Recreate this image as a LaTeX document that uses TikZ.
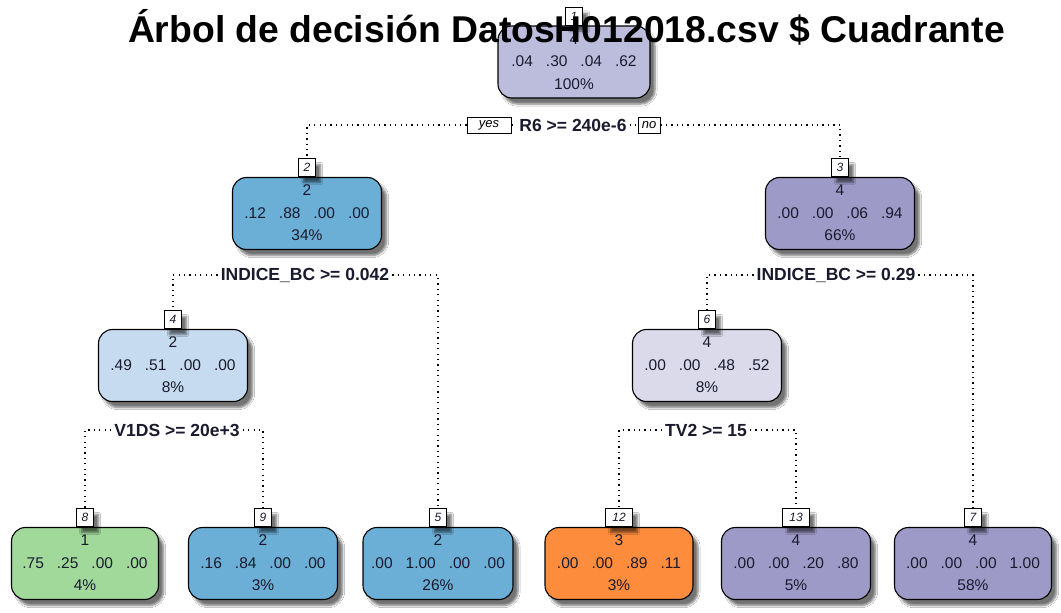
\documentclass[tikz,border=0pt]{standalone}
\usepackage{fontspec}
\setmainfont{Liberation Sans}
\usetikzlibrary{shadows.blur}
\definecolor{pur1}{HTML}{BCBDDC}
\definecolor{pur2}{HTML}{9E9AC8}
\definecolor{pur3}{HTML}{DADAEB}
\definecolor{blu1}{HTML}{6BAED6}
\definecolor{blu2}{HTML}{C6DBEF}
\definecolor{grn1}{HTML}{A1D99B}
\definecolor{org1}{HTML}{FD8D3C}
\definecolor{txt}{HTML}{1A1A2E}
\newcommand{\gp}{\hspace{13pt}}
\begin{document}
\begin{tikzpicture}[x=1pt,y=-1pt,
  shade/.style={blur shadow={shadow xshift=5pt,shadow yshift=-6pt,shadow blur steps=6,shadow opacity=55}},
  tnode/.style={draw=black,line width=1.1pt,rounded corners=14pt,minimum width=149pt,minimum height=72pt,
    inner xsep=4pt,align=center,font=\fontsize{15.5}{22.5}\selectfont,text=txt,text depth=1pt,shade},
  nid/.style={draw=black,fill=white,line width=0.9pt,minimum width=17pt,minimum height=18pt,inner sep=1pt,
    font=\fontsize{12}{12}\selectfont\itshape,anchor=south,text=txt,shade},
  split/.style={font=\fontsize{17.5}{17.5}\selectfont\bfseries,text=txt,inner sep=3pt},
  yn/.style={draw=black,fill=white,line width=0.8pt,minimum width=44pt,minimum height=16pt,inner sep=1pt,
    font=\fontsize{13}{13}\selectfont\itshape},
  dots/.style={line width=1.3pt,dash pattern=on 1.3pt off 4.1pt}
]
\useasboundingbox (0,0) rectangle (1061,613);
\fill[white] (0,0) rectangle (1061,613);

% nodes of the tree
\node[tnode,fill=pur1,minimum width=152pt] (n1) at (574,62) {4\\.04\gp.30\gp.04\gp.62\\100\%};
\node[tnode,fill=blu1] (n2) at (307,213.5) {2\\.12\gp.88\gp.00\gp.00\\34\%};
\node[tnode,fill=pur2] (n3) at (840,213.5) {4\\.00\gp.00\gp.06\gp.94\\66\%};
\node[tnode,fill=blu2] (n4) at (173,365.5) {2\\.49\gp.51\gp.00\gp.00\\8\%};
\node[tnode,fill=pur3] (n6) at (707,365.5) {4\\.00\gp.00\gp.48\gp.52\\8\%};
\node[tnode,fill=grn1,minimum width=147pt] (n8) at (85,563.5) {1\\.75\gp.25\gp.00\gp.00\\4\%};
\node[tnode,fill=blu1] (n9) at (263,563.5) {2\\.16\gp.84\gp.00\gp.00\\3\%};
\node[tnode,fill=blu1,minimum width=150pt] (n5) at (438,563.5) {2\\.00\gp1.00\gp.00\gp.00\\26\%};
\node[tnode,fill=org1,minimum width=148pt] (n12) at (619,563.5) {3\\.00\gp.00\gp.89\gp.11\\3\%};
\node[tnode,fill=pur2] (n13) at (796,563.5) {4\\.00\gp.00\gp.20\gp.80\\5\%};
\node[tnode,fill=pur2,minimum width=157pt] (n7) at (973,563.5) {4\\.00\gp.00\gp.00\gp1.00\\58\%};

% node numbers
\node[nid] (l1) at (n1.north) {1};
\node[nid] (l2) at (n2.north) {2};
\node[nid] (l3) at (n3.north) {3};
\node[nid] (l4) at (n4.north) {4};
\node[nid] (l6) at (n6.north) {6};
\node[nid] (l8) at (n8.north) {8};
\node[nid] (l9) at (n9.north) {9};
\node[nid] (l5) at (n5.north) {5};
\node[nid,minimum width=27pt] (l12) at (n12.north) {12};
\node[nid,minimum width=27pt] (l13) at (n13.north) {13};
\node[nid] (l7) at (n7.north) {7};

% split rules
\node[split] (s1) at (573,125) {R6 >= 240e-6};
\node[yn] (yes) at (489,125) {yes};
\node[yn,minimum width=22pt] (no) at (649,125) {no};
\draw[dots] (yes.west) -| (l2.north);
\draw[dots] (yes.east) -- (s1.west);
\draw[dots] (s1.east) -- (no.west);
\draw[dots] (no.east) -| (l3.north);

\node[split] (s2) at (305,275) {INDICE\_BC >= 0.042};
\draw[dots] (s2.west) -| (l4.north);
\draw[dots] (s2.east) -| (l5.north);

\node[split] (s3) at (836,275) {INDICE\_BC >= 0.29};
\draw[dots] (s3.west) -| (l6.north);
\draw[dots] (s3.east) -| (l7.north);

\node[split] (s4) at (177,430) {V1DS >= 20e+3};
\draw[dots] (s4.west) -| (l8.north);
\draw[dots] (s4.east) -| (l9.north);

\node[split] (s6) at (706,430) {TV2 >= 15};
\draw[dots] (s6.west) -| (l12.north);
\draw[dots] (s6.east) -| (l13.north);

% title
\node[font=\fontsize{37.3}{40}\selectfont\bfseries,anchor=base,inner sep=0pt] (title) at (566.5,42)
  {Árbol de decisión DatosH012018.csv \$ Cuadrante};
\end{tikzpicture}
\end{document}
